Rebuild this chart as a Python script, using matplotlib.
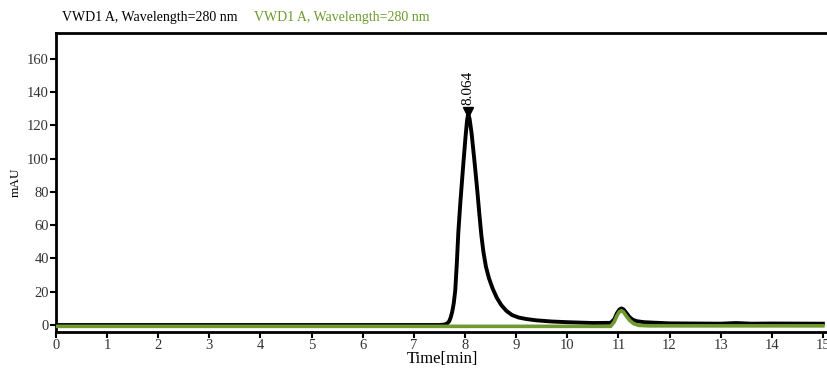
import matplotlib.pyplot as plt

# black trace (sample)
t_black = [0, 7.5, 7.6, 7.65, 7.69, 7.72, 7.75, 7.78, 7.81, 7.84, 7.87, 7.91,
           7.96, 8.01, 8.04, 8.064, 8.09, 8.13, 8.19, 8.24, 8.28, 8.32, 8.36,
           8.41, 8.47, 8.54, 8.62, 8.71, 8.81, 8.92, 9.05, 9.2, 9.4, 9.7,
           10.0, 10.5, 10.85, 10.92, 10.97, 11.02, 11.06, 11.1, 11.15, 11.21,
           11.28, 11.36, 11.5, 11.7, 12.0, 13.0, 13.3, 13.6, 14.0, 15.0]
y_black = [0, 0, 0.3, 0.9, 2.2, 4.5, 8, 13, 21, 37, 56, 74,
           94, 113, 123, 127, 124, 115, 97, 81, 67, 54, 44,
           35, 28, 22, 16.5, 12, 8.5, 6, 4.5, 3.6, 2.8, 2.1,
           1.7, 1.2, 1.3, 3.5, 7, 9.3, 10, 9.4, 7.5, 5,
           3.2, 2.3, 1.7, 1.4, 1.0, 0.8, 1.2, 0.8, 0.9, 0.8]

# green trace
t_green = [0, 7.5, 10.85, 10.92, 10.97, 11.02, 11.06, 11.1, 11.15, 11.22, 11.3,
           11.4, 11.6, 12.0, 15.0]
y_green = [-0.8, -0.8, -0.8, 2.0, 5.5, 8.0, 8.6, 7.8, 5.6, 2.8, 0.8,
           -0.2, -0.5, -0.5, -0.5]

peak_time = 8.064
peak_height = 128
peak_label = "8.064"

green = "#6e9a2e"
serif = "Liberation Serif"

fig = plt.figure(figsize=(8.28, 3.7), dpi=100)
ax = fig.add_axes([0.0676, 0.1027, 0.9324, 0.8068])

ax.plot(t_black, y_black, color="black", lw=2.8, zorder=2)
ax.plot(t_green, y_green, color=green, lw=2.6, zorder=3)
ax.plot([peak_time], [peak_height], marker="v", color="black", ms=6.5, zorder=4)
ax.text(peak_time, peak_height + 4, peak_label, rotation=90, ha="center", va="bottom",
        fontsize=11, family=serif)

ax.set_xlim(0, 15.1)
ax.set_ylim(-4.2, 175.3)
ax.set_xticks(range(0, 16))
ax.set_yticks(range(0, 161, 20))
for lbl in ax.get_xticklabels() + ax.get_yticklabels():
    lbl.set_family(serif)
    lbl.set_fontsize(10.5)
    lbl.set_color("#333333")
ax.tick_params(direction="out", length=4, width=1.5, color="black", pad=1)

ax.spines["right"].set_visible(False)
for s in ["left", "bottom", "top"]:
    ax.spines[s].set_linewidth(2)

ax.set_xlabel("Time[min]", family=serif, fontsize=12, labelpad=-1)
ax.set_ylabel("mAU", family=serif, fontsize=9.5, labelpad=4)

fig.text(62 / 828, 0.953, "VWD1 A, Wavelength=280 nm", family=serif,
         fontsize=10, va="center", ha="left")
fig.text(254 / 828, 0.953, "VWD1 A, Wavelength=280 nm", family=serif,
         fontsize=10, va="center", ha="left", color=green)

fig.savefig("out.png", dpi=100)
